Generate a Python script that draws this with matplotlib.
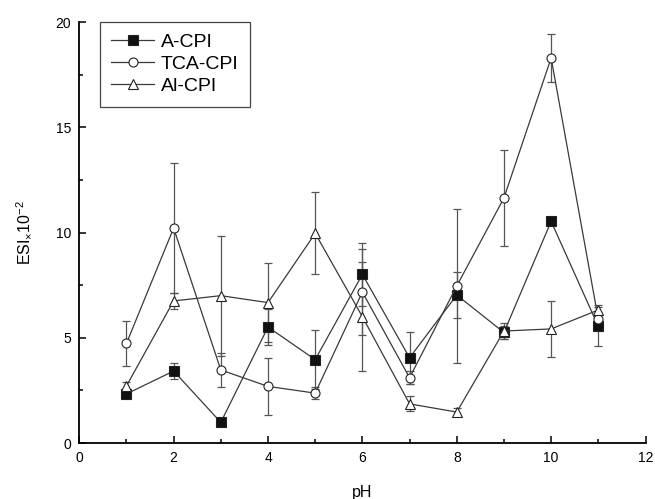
import matplotlib
matplotlib.use("Agg")
import matplotlib.pyplot as plt
from matplotlib.ticker import MultipleLocator

plt.rcParams['font.family'] = ['Liberation Sans', 'DejaVu Sans']
plt.rcParams['mathtext.fontset'] = 'custom'
plt.rcParams['mathtext.rm'] = 'Liberation Sans'

pH = [1, 2, 3, 4, 5, 6, 7, 8, 9, 10, 11]
a_cpi = [2.33, 3.42, 0.98, 5.51, 3.96, 8.01, 4.05, 7.03, 5.25, 10.53, 5.54]
a_err = [0.15, 0.39, 0.1, 0.85, 1.39, 1.5, 1.24, 1.1, 0.3, 0.1, 0.92]
tca_cpi = [4.73, 10.21, 3.47, 2.69, 2.37, 7.17, 3.1, 7.46, 11.64, 18.29, 5.88]
tca_err = [1.06, 3.08, 0.8, 1.35, 0.3, 2.03, 0.3, 3.65, 2.27, 1.15, 0.3]
al_cpi = [2.71, 6.75, 7.0, 6.67, 9.96, 6.0, 1.86, 1.47, 5.32, 5.42, 6.32]
al_err = [0.2, 0.38, 2.85, 1.87, 1.95, 2.58, 0.35, 0.2, 0.4, 1.32, 0.25]

fig = plt.figure(figsize=(6.55, 4.99), dpi=100)
ax = fig.add_axes([0.121, 0.1122, 0.8645, 0.8437])

line_c = '#3a3a3a'
err_c = '#555555'
series = [
    ('A-CPI', a_cpi, a_err, 's', '#111111'),
    ('TCA-CPI', tca_cpi, tca_err, 'o', 'white'),
    ('Al-CPI', al_cpi, al_err, '^', 'white'),
]
for label, y, e, m, fc in series:
    ax.errorbar(pH, y, yerr=e, fmt='none', ecolor=err_c, elinewidth=0.9,
                capsize=3.2, capthick=0.9, zorder=2)
for label, y, e, m, fc in series:
    ms = 6.5 if m != '^' else 7.5
    ax.plot(pH, y, marker=m, color=line_c, lw=0.9, ms=ms, mfc=fc,
            mec='#222222', mew=0.8, label=label, zorder=3)

ax.set_xlim(0, 12)
ax.set_ylim(0, 20)
ax.xaxis.set_major_locator(MultipleLocator(2))
ax.xaxis.set_minor_locator(MultipleLocator(1))
ax.yaxis.set_major_locator(MultipleLocator(5))
ax.yaxis.set_minor_locator(MultipleLocator(2.5))
ax.tick_params(which='both', direction='in', labelsize=10, width=1.1, colors='black')
ax.tick_params(which='major', length=5, pad=6)
ax.tick_params(which='minor', length=3)
for s in ['top', 'right']:
    ax.spines[s].set_visible(False)
for s in ['left', 'bottom']:
    ax.spines[s].set_linewidth(1.3)

ax.set_xlabel('pH', fontsize=11.5, labelpad=14)
ax.set_ylabel(r'ESI$\mathregular{{}_{\times}10^{-2}}$', fontsize=11.5, labelpad=16)

leg = ax.legend(loc='upper left', bbox_to_anchor=(0.036, 1.0), fontsize=14,
                frameon=True, fancybox=False, framealpha=1, edgecolor='#444444',
                handlelength=2.2, handletextpad=0.35, labelspacing=0.22,
                borderpad=0.6, borderaxespad=0.0)
leg.get_frame().set_linewidth(0.9)

fig.savefig('out.png', dpi=100)
